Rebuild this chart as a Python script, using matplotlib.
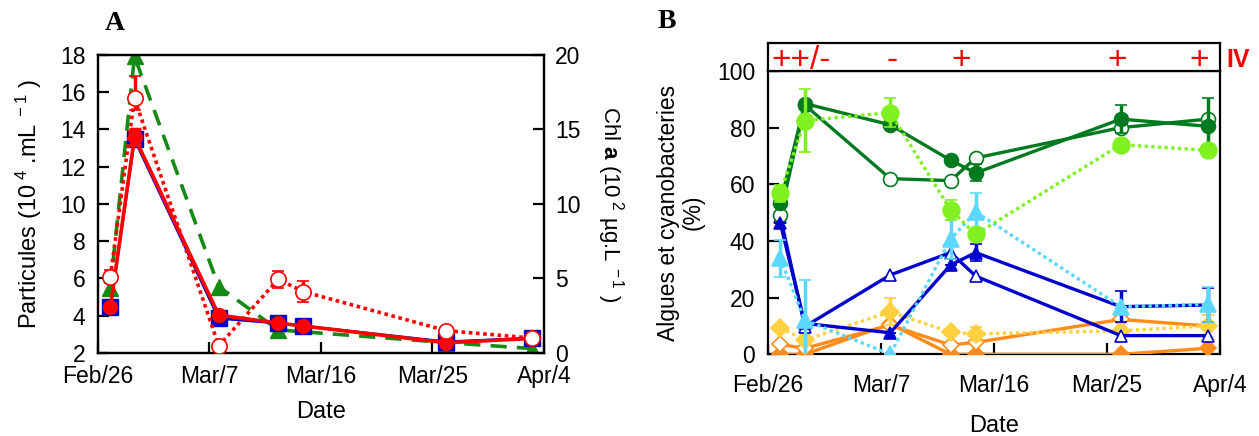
import matplotlib
matplotlib.use("Agg")
import matplotlib.pyplot as plt
import numpy as np

plt.rcParams['font.family'] = ['Liberation Sans', 'DejaVu Sans']
plt.rcParams['mathtext.fontset'] = 'custom'
plt.rcParams['mathtext.rm'] = 'Liberation Sans'
plt.rcParams['mathtext.it'] = 'Liberation Sans:italic'
plt.rcParams['mathtext.bf'] = 'Liberation Sans:bold'

# ---------------- data ----------------
tick_pos = [0, 9, 18, 27, 36]
tick_labels = ["Feb/26", "Mar/7", "Mar/16", "Mar/25", "Apr/4"]
days = [1.0, 2.95, 9.75, 14.55, 16.55, 28.1, 35.0]

# Panel A (left axis: particles 10^4/mL)
part_blue_sq = [4.45, 13.47, 3.86, 3.6, 3.45, 2.6, 2.8]
part_red_fill = [4.45, 13.6, 4.04, 3.6, 3.45, 2.55, 2.78]
part_red_fill_err = [0, 0.45, 0, 0, 0, 0, 0]
part_red_open = [6.1, 15.67, 2.38, 5.96, 5.3, 3.2, 2.8]
part_red_open_err_lo = [0.35, 0.65, 0, 0.45, 0.58, 0, 0]
part_red_open_err_hi = [0.35, 1.2, 0, 0.45, 0.58, 0, 0]
# Panel A (right axis: Chl a)
chl_days = [1.0, 2.95, 9.75, 14.55, 28.1, 35.0]
chl_green = [4.35, 19.9, 4.45, 1.55, 0.7, 0.3]

# Panel B (% algae and cyanobacteria)
dkgreen_fill = [53.3, 88.5, 81.0, 68.5, 64.0, 83.0, 80.5]
dkgreen_fill_err = [0, 0, 1.5, 0, 3.0, 5.0, 10.0]
dkgreen_open = [49.0, 88.0, 62.0, 61.3, 69.3, 80.0, 83.0]
ltgreen_fill = [56.8, 82.5, 85.3, 51.0, 42.3, 74.0, 72.0]
ltgreen_fill_err = [3.0, 11.0, 5.0, 3.5, 0, 2.0, 0]
blue_fill = [46.2, 10.9, 7.6, 31.5, 35.9, 16.8, 17.4]
blue_fill_err = [0, 0, 0, 0, 3.0, 5.5, 6.0]
blue_open = [48.6, 9.8, 28.0, 35.9, 27.6, 6.6, 6.6]
cyan_fill = [33.9, 12.1, 0.0, 40.6, 50.3, 16.8, 17.6]
cyan_fill_err = [6.5, 14.0, 0, 6.8, 6.5, 0, 6.3]
orange_fill = [0.0, 0.0, 10.7, 0.0, 0.0, 0.0, 2.1]
orange_open = [3.5, 2.1, 10.3, 3.3, 4.2, 12.3, 10.0]
yellow_fill = [9.4, 5.0, 15.0, 7.8, 7.2, 8.3, 10.0]
yellow_fill_err = [0, 0, 4.8, 0, 2.5, 0, 3.9]

annot_x = [0.3, 9.9, 15.4, 27.8, 34.3]
annot_txt = ["++/-", "-", "+", "+", "+"]

# ---------------- colours ----------------
BLUE = '#0000CC'
RED = '#FF0000'
GREEN_A = '#158A15'
DKG = '#007A1F'
LTG = '#80F020'
CYAN = '#5CD8FF'
ORANGE = '#FF8C1A'
YELLOW = '#FFD040'

TICK_FS = 16.5
LAB_FS = 17

fig = plt.figure(figsize=(12.59, 4.36), dpi=100)

# ================= Panel A =================
axA = fig.add_axes([0.0778, 0.1904, 0.3543, 0.6835])
axA2 = axA.twinx()
axA.set_zorder(axA2.get_zorder() + 1)
axA.patch.set_visible(False)

axA2.plot(chl_days, chl_green, color=GREEN_A, lw=2.6, ls=(0, (4.5, 2.8)),
          marker='^', ms=11, mfc=GREEN_A, mec=GREEN_A, zorder=2)

axA.plot(days, part_blue_sq, color=BLUE, lw=2.0, marker='s', ms=11.5,
         mfc=BLUE, mec=BLUE, zorder=3)
axA.errorbar(days, part_red_fill, yerr=part_red_fill_err, color=RED, lw=2.6,
             marker='o', ms=10, mfc=RED, mec=RED, capsize=4, capthick=2.5,
             elinewidth=2.5, zorder=4)
axA.errorbar(days, part_red_open, yerr=[part_red_open_err_lo, part_red_open_err_hi],
             color=RED, lw=2.6, ls=(0, (1, 1)), marker='o', ms=11, mfc='white',
             mec=RED, mew=1.2, capsize=4, capthick=2.5, elinewidth=2.5, zorder=5)

axA.set_xlim(0, 36)
axA.set_ylim(2, 18)
axA.set_yticks(range(2, 19, 2))
axA2.set_ylim(0, 20)
axA2.set_yticks([0, 5, 10, 15, 20])
axA.set_xticks(tick_pos)
axA.set_xticklabels(tick_labels)

for a in (axA, axA2):
    for s in a.spines.values():
        s.set_linewidth(1.6)
axA.tick_params(axis='both', direction='in', length=8, width=1.6, labelsize=TICK_FS)
axA.tick_params(axis='y', pad=9)
axA.tick_params(axis='x', pad=9)
axA2.tick_params(axis='y', direction='in', length=8, width=1.6, labelsize=TICK_FS, pad=8)

axA.set_ylabel("Particules (10$^{\\ 4}$ .mL$^{\\ -1}$ )", fontsize=LAB_FS)
axA.yaxis.set_label_coords(-0.12, 0.5)
axA2.set_ylabel("Chl $\\mathbf{a}$ (10$^{\\ 2}$ µg.L$^{\\ -1}$ )", fontsize=16,
                rotation=270, va='center')
axA2.yaxis.set_label_coords(1.148, 0.5)
axA.set_xlabel("Date", fontsize=LAB_FS, va='top')
axA.xaxis.set_label_coords(0.5, -0.16)
fig.text(115 / 1259, 1 - 24 / 436, "A", fontsize=20, fontweight='bold',
         family='Liberation Serif', ha='center', va='center')

# ================= Panel B =================
axB = fig.add_axes([0.6098, 0.1874, 0.3593, 0.6498])

def series(ax, y, color, marker, filled, ls, err=None, ms=10, z=3, lw=2.4):
    kw = dict(color=color, lw=lw, ls=ls, marker=marker, ms=ms,
              mfc=color if filled else 'white', mec=color, mew=1.2, zorder=z)
    if err is not None:
        ax.errorbar(days, y, yerr=err, capsize=4, capthick=2.5, elinewidth=2.5, **kw)
    else:
        ax.plot(days, y, **kw)

DOT = (0, (1, 1))
series(axB, orange_fill, ORANGE, 'D', True, '-', ms=8, z=3)
series(axB, orange_open, ORANGE, 'D', False, '-', ms=8, z=3)
series(axB, yellow_fill, YELLOW, 'D', True, DOT, err=yellow_fill_err, ms=9, z=3)
series(axB, blue_open, BLUE, '^', False, '-', ms=9, z=4)
series(axB, blue_fill, BLUE, '^', True, '-', err=blue_fill_err, ms=9, z=4)
series(axB, cyan_fill, CYAN, '^', True, DOT, err=cyan_fill_err, ms=11, z=5)
series(axB, dkgreen_open, DKG, 'o', False, '-', ms=10, z=4)
series(axB, dkgreen_fill, DKG, 'o', True, '-', err=dkgreen_fill_err, ms=10, z=4)
series(axB, ltgreen_fill, LTG, 'o', True, DOT, err=ltgreen_fill_err, ms=12, z=5)

axB.set_xlim(0, 36)
axB.set_ylim(0, 100)
axB.set_yticks([0, 20, 40, 60, 80, 100])
axB.set_xticks(tick_pos)
axB.set_xticklabels(tick_labels)
for s in axB.spines.values():
    s.set_linewidth(1.6)
axB.tick_params(axis='both', direction='in', length=8, width=1.6, labelsize=TICK_FS)
axB.tick_params(axis='y', pad=9)
axB.tick_params(axis='x', pad=14)
axB.set_ylabel("Algues et cyanobacteries\n(%)", fontsize=16.5, linespacing=1.1)
axB.yaxis.set_label_coords(-0.139, 0.5)
axB.set_xlabel("Date", fontsize=LAB_FS, va='top')
axB.xaxis.set_label_coords(0.5, -0.215)
fig.text(667 / 1259, 1 - 21 / 436, "B", fontsize=20, fontweight='bold',
         family='Liberation Serif', ha='center', va='center')

# Annotation strip above panel B
axT = fig.add_axes([0.6098, 0.8372, 0.3593, 0.0635])
axT.set_xlim(0, 36)
axT.set_ylim(0, 1)
axT.set_xticks([])
axT.set_yticks([])
for s in axT.spines.values():
    s.set_linewidth(1.6)
for xx, tt in zip(annot_x, annot_txt):
    axT.text(xx, 0.38, tt, color=RED, fontsize=24,
             ha='left' if tt == "++/-" else 'center', va='center')
axT.text(1.013, 0.38, "IV", color=RED, fontsize=18, fontweight='bold',
         ha='left', va='center', transform=axT.transAxes)

fig.savefig("out.png", dpi=100)
